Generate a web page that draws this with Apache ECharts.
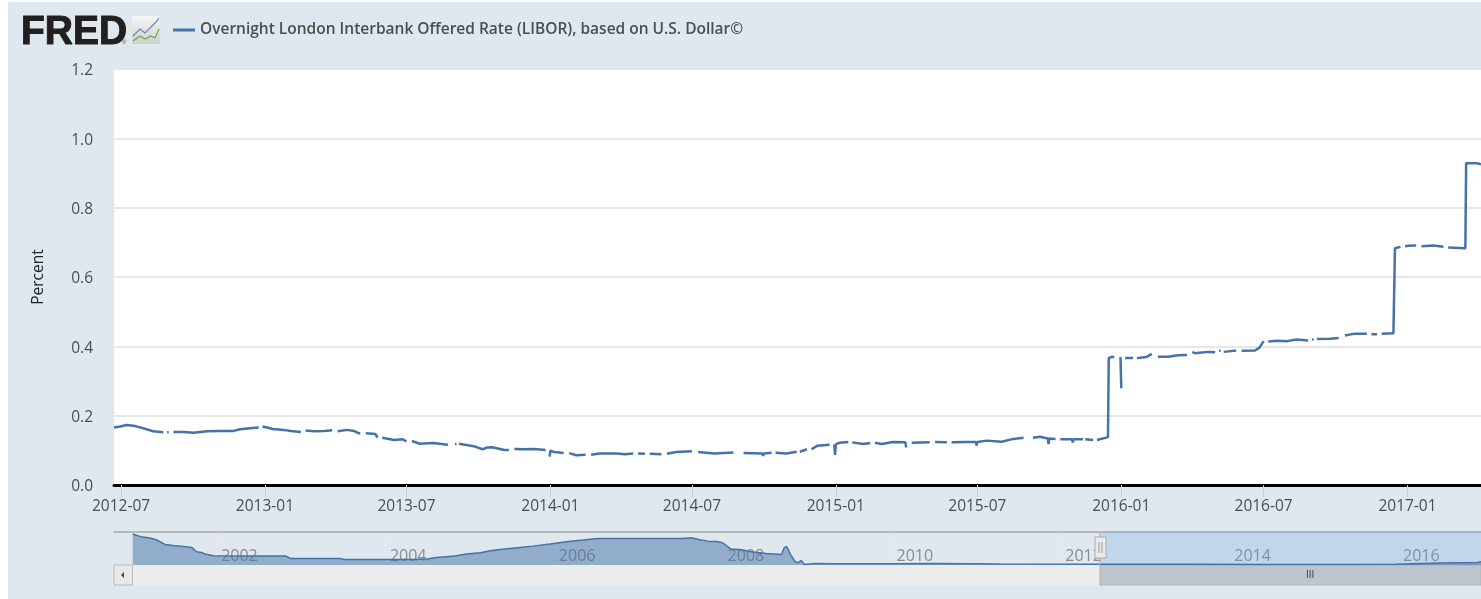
<!DOCTYPE html>
<html lang="en">
<head>
    <meta charset="UTF-8">
    <title>Overnight London Interbank Offered Rate</title>
    <style>
        html, body { margin: 0; padding: 0; background: #fff; }
        #main { width: 1481px; height: 599px; }
    </style>
</head>
<body>
    <div id="main"></div>
    <script src="https://cdn.jsdelivr.net/npm/echarts@6/dist/echarts.min.js"></script>
    <script>
        var seriesName = 'Overnight London Interbank Offered Rate (LIBOR), based on U.S. Dollar©';

        // daily series, null = gap in the line
        var libor2012 = [
            ['2012-06-22', 0.166], ['2012-06-30', 0.169], ['2012-07-08', 0.173], ['2012-07-17', 0.171],
            ['2012-07-29', 0.164], ['2012-08-11', 0.155], ['2012-08-24', 0.152], ['2012-08-27', null],
            ['2012-08-29', 0.152], ['2012-08-31', 0.152], ['2012-09-03', null], ['2012-09-06', 0.153],
            ['2012-09-19', 0.153], ['2012-10-02', 0.151], ['2012-10-19', 0.155], ['2012-11-05', 0.156],
            ['2012-11-22', 0.156], ['2012-11-30', 0.161], ['2012-12-13', 0.164], ['2012-12-24', 0.166],
            ['2012-12-27', null], ['2012-12-29', 0.169], ['2012-12-31', 0.169]
        ];
        var libor2013 = [
            ['2013-01-05', 0.165], ['2013-01-12', 0.161], ['2013-01-15', 0.161], ['2013-01-16', 0.165],
            ['2013-01-17', 0.160], ['2013-01-25', 0.159], ['2013-02-03', 0.156], ['2013-02-16', 0.153],
            ['2013-02-19', null], ['2013-02-22', 0.157], ['2013-03-05', 0.155], ['2013-03-18', 0.156],
            ['2013-03-28', 0.158], ['2013-03-31', null], ['2013-04-04', 0.155], ['2013-04-16', 0.159],
            ['2013-04-25', 0.156], ['2013-05-01', 0.149], ['2013-05-03', 0.149], ['2013-05-06', null],
            ['2013-05-10', 0.149], ['2013-05-22', 0.147], ['2013-05-25', 0.137], ['2013-05-28', null],
            ['2013-05-31', 0.136], ['2013-06-15', 0.130], ['2013-06-26', 0.132], ['2013-07-01', 0.126],
            ['2013-07-04', null], ['2013-07-08', 0.127], ['2013-07-18', 0.119], ['2013-08-04', 0.121],
            ['2013-08-23', 0.116], ['2013-08-27', null], ['2013-09-01', 0.118], ['2013-09-03', 0.118],
            ['2013-09-04', null], ['2013-09-06', 0.119], ['2013-09-25', 0.112], ['2013-10-06', 0.103],
            ['2013-10-12', 0.108], ['2013-10-19', 0.109], ['2013-11-03', 0.101], ['2013-11-09', 0.101],
            ['2013-11-12', null], ['2013-11-16', 0.104], ['2013-11-29', 0.103], ['2013-12-11', 0.104],
            ['2013-12-26', 0.101], ['2013-12-28', null], ['2013-12-31', 0.082], ['2014-01-01', 0.099]
        ];
        var libor2014 = [
            ['2014-01-06', 0.095], ['2014-01-18', 0.092], ['2014-01-21', null], ['2014-01-25', 0.092],
            ['2014-02-03', 0.086], ['2014-02-15', 0.087], ['2014-02-18', null], ['2014-02-22', 0.087],
            ['2014-03-05', 0.091], ['2014-03-27', 0.091], ['2014-04-06', 0.089], ['2014-04-17', 0.091],
            ['2014-04-20', null], ['2014-04-23', 0.091], ['2014-05-02', 0.090], ['2014-05-05', null],
            ['2014-05-08', 0.090], ['2014-05-23', 0.089], ['2014-05-26', null], ['2014-05-30', 0.090],
            ['2014-06-11', 0.095], ['2014-07-01', 0.097], ['2014-07-05', null], ['2014-07-09', 0.095],
            ['2014-07-30', 0.091], ['2014-08-23', 0.094], ['2014-08-29', null], ['2014-09-05', 0.092],
            ['2014-09-29', 0.091], ['2014-09-30', 0.084], ['2014-10-01', 0.091], ['2014-10-11', 0.093],
            ['2014-10-13', null], ['2014-10-16', 0.093], ['2014-10-30', 0.091], ['2014-11-12', 0.096],
            ['2014-11-14', null], ['2014-11-16', 0.096], ['2014-11-25', 0.103], ['2014-11-28', null],
            ['2014-12-01', 0.103], ['2014-12-08', 0.113], ['2014-12-24', 0.116], ['2014-12-27', null]
        ];
        var libor2015 = [
            ['2014-12-30', 0.117], ['2014-12-31', 0.087], ['2015-01-01', 0.117], ['2015-01-06', 0.122],
            ['2015-01-17', 0.124], ['2015-01-20', null], ['2015-01-22', 0.123], ['2015-02-05', 0.118],
            ['2015-02-14', 0.121], ['2015-02-17', null], ['2015-02-20', 0.122], ['2015-03-01', 0.118],
            ['2015-03-15', 0.124], ['2015-03-31', 0.123], ['2015-04-01', 0.108], ['2015-04-02', null],
            ['2015-04-08', 0.122], ['2015-05-01', 0.123], ['2015-05-04', null], ['2015-05-08', 0.124],
            ['2015-05-23', 0.123], ['2015-05-26', null], ['2015-05-29', 0.123], ['2015-06-17', 0.124],
            ['2015-06-29', 0.124], ['2015-06-30', 0.114], ['2015-07-01', 0.124], ['2015-07-13', 0.128],
            ['2015-08-01', 0.125], ['2015-08-16', 0.133], ['2015-08-29', 0.136], ['2015-09-03', null],
            ['2015-09-10', 0.136], ['2015-09-19', 0.139], ['2015-09-29', 0.134], ['2015-09-30', 0.118],
            ['2015-10-01', 0.134], ['2015-10-09', 0.133], ['2015-10-12', null], ['2015-10-15', 0.132],
            ['2015-10-30', 0.132], ['2015-10-31', 0.123], ['2015-11-01', 0.132], ['2015-11-13', 0.132],
            ['2015-11-14', null], ['2015-11-16', 0.132], ['2015-11-26', 0.130], ['2015-11-28', null],
            ['2015-12-01', 0.130], ['2015-12-15', 0.138], ['2015-12-16', 0.366], ['2015-12-19', 0.369],
            ['2015-12-23', 0.369], ['2015-12-27', null], ['2015-12-31', 0.369], ['2016-01-01', 0.279],
            ['2016-01-03', null]
        ];
        var libor2016 = [
            ['2016-01-06', 0.366], ['2016-01-16', 0.366], ['2016-01-19', null], ['2016-01-21', 0.366],
            ['2016-02-02', 0.369], ['2016-02-09', 0.378], ['2016-02-13', null], ['2016-02-17', 0.370],
            ['2016-03-01', 0.370], ['2016-03-14', 0.374], ['2016-03-25', 0.375], ['2016-03-28', null],
            ['2016-04-01', 0.384], ['2016-04-04', 0.380], ['2016-04-21', 0.384], ['2016-04-30', 0.383],
            ['2016-05-03', null], ['2016-05-05', 0.387], ['2016-05-07', 0.387], ['2016-05-09', null],
            ['2016-05-11', 0.384], ['2016-05-27', 0.388], ['2016-05-31', null], ['2016-06-03', 0.387],
            ['2016-06-20', 0.388], ['2016-06-26', 0.397], ['2016-07-01', 0.415], ['2016-07-04', null],
            ['2016-07-07', 0.414], ['2016-07-18', 0.416], ['2016-07-31', 0.415], ['2016-08-12', 0.420],
            ['2016-08-27', 0.417], ['2016-08-30', null], ['2016-09-01', 0.420], ['2016-09-03', 0.420],
            ['2016-09-05', null], ['2016-09-07', 0.421], ['2016-09-24', 0.422], ['2016-10-05', 0.424],
            ['2016-10-09', null], ['2016-10-13', 0.431], ['2016-10-24', 0.436], ['2016-11-10', 0.436],
            ['2016-11-13', null], ['2016-11-16', 0.435], ['2016-11-23', 0.435], ['2016-11-26', null],
            ['2016-11-29', 0.436], ['2016-12-14', 0.438], ['2016-12-16', 0.683], ['2016-12-23', 0.687],
            ['2016-12-26', null]
        ];
        var libor2017 = [
            ['2016-12-29', 0.689], ['2017-01-02', 0.690], ['2017-01-12', 0.691], ['2017-01-15', null],
            ['2017-01-19', 0.689], ['2017-02-03', 0.691], ['2017-02-16', 0.687], ['2017-02-19', null],
            ['2017-02-22', 0.685], ['2017-03-16', 0.683], ['2017-03-17', 0.928], ['2017-03-31', 0.928],
            ['2017-04-05', 0.925]
        ];

        // long history shown in the navigator strip
        var historyDates = [
            '2001-01-05', '2001-02-14', '2001-03-15', '2001-04-20', '2001-05-25', '2001-06-28', '2001-08-03',
            '2001-09-17', '2001-10-08', '2001-10-30', '2001-11-14', '2001-12-20', '2002-03-15', '2002-08-05',
            '2002-10-30', '2002-11-18', '2003-03-25', '2003-06-20', '2003-07-12', '2004-01-08', '2004-05-01',
            '2004-07-01', '2004-08-10', '2004-10-30', '2004-12-20', '2005-02-18', '2005-04-01', '2005-05-12',
            '2005-08-08', '2005-10-01', '2005-12-16', '2006-02-25', '2006-05-08', '2006-07-12', '2007-01-08',
            '2007-07-12', '2007-08-18', '2007-09-24', '2007-10-30', '2007-12-05', '2008-01-01', '2008-02-06',
            '2008-03-14', '2008-05-12', '2008-07-08', '2008-09-12', '2008-09-24', '2008-10-05', '2008-10-22',
            '2008-11-10', '2008-11-24', '2008-12-06', '2008-12-20', '2009-02-06', '2009-04-22', '2010-02-06',
            '2010-07-01', '2011-04-15', '2012-06-22', '2013-07-01', '2014-07-01', '2015-12-20', '2015-12-28',
            '2016-07-01', '2016-12-10', '2016-12-25'
        ];
        var historyRates = [
            6.0, 5.41, 5.28, 4.83, 3.99, 3.79, 3.66,
            3.41, 2.57, 2.44, 2.12, 1.79, 1.73, 1.73,
            1.73, 1.28, 1.28, 1.28, 1.08, 1.08, 1.08,
            1.15, 1.47, 1.73, 2.12, 2.38, 2.76, 3.02,
            3.41, 3.66, 4.05, 4.5, 4.83, 5.15, 5.15,
            5.15, 5.28, 4.89, 4.63, 4.57, 4.31, 3.08,
            3.02, 2.5, 2.24, 2.05, 3.41, 3.54, 1.92,
            0.63, 0.44, 0.89, 0.12, 0.31, 0.25, 0.25,
            0.31, 0.18, 0.16, 0.14, 0.1, 0.14, 0.3,
            0.41, 0.5, 0.65
        ];

        var monthTicks = ['2012-07-01', '2013-01-01', '2013-07-01', '2014-01-01', '2014-07-01',
            '2015-01-01', '2015-07-01', '2016-01-01', '2016-07-01', '2017-01-01'];
        var yearTicks = ['2002-01-01', '2004-01-01', '2006-01-01', '2008-01-01', '2010-01-01',
            '2012-01-01', '2014-01-01', '2016-01-01'];

        var toTime = function (s) { return Date.parse(s); };
        var two = function (n) { return n < 10 ? '0' + n : '' + n; };

        var liborData = libor2012.concat(libor2013, libor2014, libor2015, libor2016, libor2017)
            .map(function (p) { return [toTime(p[0]), p[1]]; });
        var historyData = historyDates.map(function (d, i) { return [toTime(d), historyRates[i]]; });

        var blue = '#4572a7';
        var textColor = '#4d4d4d';
        var fontName = '"Open Sans", sans-serif';

        var myecharts = echarts.init(document.getElementById('main'));
        var option = {
            animation: false,
            backgroundColor: '#dfe7ef',
            textStyle: { fontFamily: fontName },
            legend: {
                left: 168, top: 17,
                icon: 'rect', itemWidth: 22, itemHeight: 3, itemGap: 6,
                selectedMode: false,
                data: [seriesName],
                textStyle: { color: textColor, fontSize: 15.5, fontWeight: 600, fontFamily: fontName }
            },
            grid: [
                { left: 114, right: 0, top: 69, height: 416, show: true, backgroundColor: '#fff', borderWidth: 0 },
                { left: 114, right: 0, top: 532, height: 33, show: false }
            ],
            xAxis: [
                {
                    type: 'value', gridIndex: 0, scale: true,
                    min: toTime('2012-06-22'), max: toTime('2017-04-05'),
                    axisLine: { onZero: false, lineStyle: { color: '#000', width: 3 } },
                    axisTick: { show: true, length: 12, customValues: monthTicks.map(toTime), lineStyle: { color: '#c0d0e0', width: 1 } },
                    axisLabel: {
                        customValues: monthTicks.map(toTime),
                        margin: 14, color: textColor, fontSize: 15.5, fontFamily: fontName,
                        formatter: function (v) {
                            var d = new Date(v);
                            return d.getUTCFullYear() + '-' + two(d.getUTCMonth() + 1);
                        }
                    },
                    splitLine: { show: false }
                },
                {
                    type: 'value', gridIndex: 1, position: 'top', scale: true,
                    min: toTime('2000-10-16'), max: toTime('2016-12-25'),
                    axisLine: { onZero: false, lineStyle: { color: '#b8b8b8', width: 2 } },
                    axisTick: { show: false, customValues: yearTicks.map(toTime) },
                    axisLabel: {
                        customValues: yearTicks.map(toTime),
                        inside: true, margin: 16, align: 'left', padding: [0, 0, 0, 5],
                        color: '#8c8c8c', fontSize: 16, fontFamily: fontName,
                        formatter: function (v) { return '' + new Date(v).getUTCFullYear(); }
                    },
                    splitLine: { show: true, lineStyle: { color: '#e9e9e9', width: 1 } }
                }
            ],
            yAxis: [
                {
                    type: 'value', gridIndex: 0,
                    min: 0, max: 1.2, interval: 0.2,
                    name: 'Percent', nameLocation: 'middle', nameGap: 67, nameRotate: 90,
                    nameTextStyle: { color: '#222', fontSize: 15.5, fontFamily: fontName },
                    axisLine: { show: false }, axisTick: { show: false },
                    axisLabel: {
                        margin: 21, color: textColor, fontSize: 15.5, fontFamily: fontName,
                        verticalAlign: 'top', lineHeight: 4,
                        formatter: function (v) { return v.toFixed(1); }
                    },
                    splitLine: { lineStyle: { color: '#e6e6e6', width: 2 } }
                },
                {
                    type: 'value', gridIndex: 1,
                    min: 0, max: 6.4,
                    axisLine: { show: false }, axisTick: { show: false },
                    axisLabel: { show: false }, splitLine: { show: false }
                }
            ],
            series: [
                {
                    name: seriesName, type: 'line',
                    xAxisIndex: 0, yAxisIndex: 0,
                    data: liborData,
                    showSymbol: false, connectNulls: false,
                    lineStyle: { color: blue, width: 2.5 },
                    itemStyle: { color: blue },
                    clip: true
                },
                {
                    name: 'history', type: 'line',
                    xAxisIndex: 1, yAxisIndex: 1,
                    data: historyData,
                    showSymbol: false, z: 1,
                    lineStyle: { color: blue, width: 1.5 },
                    itemStyle: { color: blue },
                    areaStyle: { color: 'rgba(69,114,167,0.5)', opacity: 1 },
                    markArea: {
                        silent: true,
                        itemStyle: { color: 'rgba(102,160,225,0.25)', opacity: 1 },
                        data: [[{ xAxis: toTime('2012-06-22') }, { xAxis: toTime('2016-12-25') }]]
                    }
                }
            ],
            graphic: [
                // page edge
                { type: 'rect', shape: { x: 0, y: 0, width: 8, height: 599 }, style: { fill: '#fff' }, z: 50 },
                { type: 'rect', shape: { x: 0, y: 0, width: 1481, height: 2 }, style: { fill: '#fff' }, z: 50 },
                // logo
                { type: 'text', x: 21, y: 12, scaleY: 1.05, z: 50, style: { text: 'FRED', font: '900 39px "Liberation Sans"', fill: '#231f20', stroke: '#231f20', lineWidth: 1 } },
                { type: 'text', x: 122, y: 39, z: 50, style: { text: '®', font: '6px "Liberation Sans"', fill: '#555' } },
                {
                    type: 'rect', z: 50, shape: { x: 132, y: 16, width: 28, height: 28, r: 2 },
                    style: { fill: new echarts.graphic.LinearGradient(0, 0, 0, 1, [{ offset: 0, color: '#f6f6f6' }, { offset: 1, color: '#cfcfcf' }]) }
                },
                { type: 'polyline', z: 51, shape: { points: [[133, 36], [140, 29], [145, 33], [151, 27], [156, 22], [159, 18]] }, style: { stroke: '#5b8db8', lineWidth: 1.2, fill: 'none' } },
                { type: 'polyline', z: 51, shape: { points: [[133, 41], [140, 36], [145, 39], [151, 36], [155, 38], [159, 29]] }, style: { stroke: '#6aa84f', lineWidth: 1.2, fill: 'none' } },
                // scrollbar
                { type: 'rect', shape: { x: 133, y: 565, width: 967, height: 20 }, style: { fill: '#ececec' } },
                { type: 'rect', shape: { x: 114, y: 565, width: 18.5, height: 20 }, style: { fill: '#e8e8e8', stroke: '#bbb', lineWidth: 1 } },
                { type: 'polygon', shape: { points: [[121, 575], [124, 572], [124, 578]] }, style: { fill: '#444' } },
                { type: 'rect', shape: { x: 1100, y: 565, width: 381, height: 20 }, style: { fill: '#bfc5cf', stroke: '#b0b0b0', lineWidth: 1 } },
                { type: 'text', x: 1306, y: 570, z: 50, style: { text: 'III', font: '10px "Liberation Sans"', fill: '#444' } },
                // navigator handle
                { type: 'line', z: 40, shape: { x1: 1100, y1: 532, x2: 1100, y2: 565 }, style: { stroke: '#b0b0b0', lineWidth: 1 } },
                { type: 'rect', z: 41, shape: { x: 1095, y: 537, width: 11, height: 21 }, style: { fill: '#ebebeb', stroke: '#aaa', lineWidth: 1 } },
                { type: 'line', z: 42, shape: { x1: 1099, y1: 542, x2: 1099, y2: 553 }, style: { stroke: '#999', lineWidth: 1 } },
                { type: 'line', z: 42, shape: { x1: 1102, y1: 542, x2: 1102, y2: 553 }, style: { stroke: '#999', lineWidth: 1 } }
            ]
        };
        myecharts.setOption(option);
    </script>
</body>
</html>
